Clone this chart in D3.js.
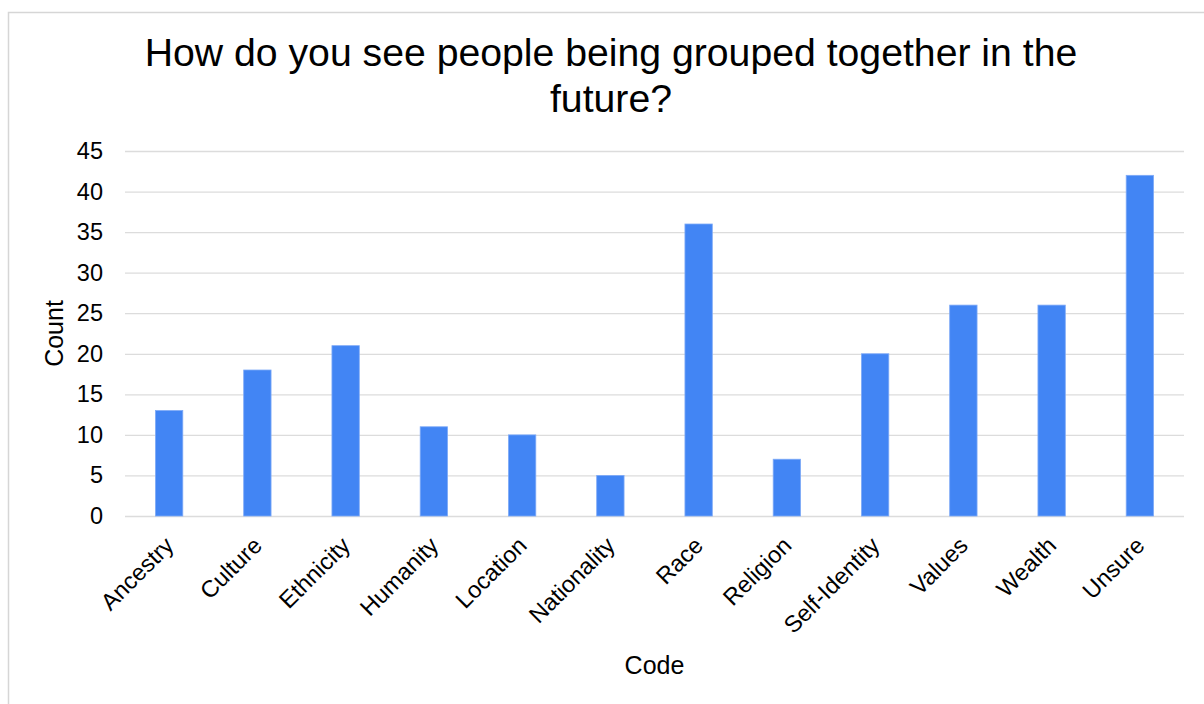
<!DOCTYPE html>
<html>
<head>
<meta charset="utf-8">
<script src="https://cdn.jsdelivr.net/npm/d3@7"></script>
<style>
  html, body { margin: 0; padding: 0; background: #fff; }
  svg { display: block; font-family: "Liberation Sans", Arial, sans-serif; }
</style>
</head>
<body>
<svg id="chart" width="1204" height="704"></svg>
<script>
// Survey responses per code
const categories = ["Ancestry", "Culture", "Ethnicity", "Humanity", "Location", "Nationality",
                    "Race", "Religion", "Self-Identity", "Values", "Wealth", "Unsure"];
const counts = [13, 18, 21, 11, 10, 5, 36, 7, 20, 26, 26, 42];
const yTicks = [0, 5, 10, 15, 20, 25, 30, 35, 40, 45];
const titleLines = ["How do you see people being grouped together in the", "future?"];
const xTitle = "Code";
const yTitle = "Count";

const svg = d3.select("#chart");
const plot = { left: 125, right: 1184, top: 151, bottom: 516 };

// Outer chart frame
svg.append("rect")
  .attr("x", 8.5).attr("y", 12.5)
  .attr("width", 1220).attr("height", 720)
  .attr("fill", "#fff")
  .attr("stroke", "#d6d6d6").attr("stroke-width", 1.5);

// Title
const title = svg.append("text")
  .attr("text-anchor", "middle")
  .attr("font-size", 39.2)
  .attr("fill", "#000");
titleLines.forEach((t, i) => {
  title.append("tspan").attr("x", 611).attr("y", 66 + i * 45.6).text(t);
});

const x = d3.scaleBand()
  .domain(categories)
  .range([plot.left, plot.right])
  .paddingInner(0.69)
  .paddingOuter(0.345);

const y = d3.scaleLinear()
  .domain([0, 45])
  .range([plot.bottom, plot.top]);

// Y axis with gridlines
const yAxis = svg.append("g")
  .attr("transform", `translate(${plot.left},0)`)
  .call(d3.axisLeft(y).tickValues(yTicks)
    .tickSizeInner(-(plot.right - plot.left))
    .tickSizeOuter(0)
    .tickPadding(22));
yAxis.select(".domain").remove();
yAxis.selectAll(".tick line")
  .attr("stroke", "#dcdcdc").attr("stroke-width", 1.3);
yAxis.selectAll(".tick text")
  .attr("font-size", 23.5).attr("fill", "#000")
  .attr("font-family", "Liberation Sans, Arial, sans-serif");

// Bars
svg.append("g").selectAll("rect")
  .data(categories.map((c, i) => ({ c, v: counts[i] })))
  .join("rect")
  .attr("x", d => x(d.c))
  .attr("y", d => y(d.v))
  .attr("width", x.bandwidth())
  .attr("height", d => y(0) - y(d.v))
  .attr("fill", "#4285f4")
  .attr("stroke", "#7eaaf7").attr("stroke-width", 0.8);

// X axis labels, rotated
const xAxis = svg.append("g")
  .attr("transform", `translate(0,${plot.bottom})`)
  .call(d3.axisBottom(x).tickSize(0).tickPadding(0));
xAxis.select(".domain").remove();
xAxis.selectAll(".tick text")
  .attr("font-size", 23.5).attr("fill", "#000")
  .attr("font-family", "Liberation Sans, Arial, sans-serif")
  .attr("text-anchor", "end")
  .attr("dy", 0)
  .attr("y", 0)
  .attr("transform", "translate(6,31) rotate(-45)");

// Axis titles
svg.append("text")
  .attr("x", (plot.left + plot.right) / 2)
  .attr("y", 674)
  .attr("text-anchor", "middle")
  .attr("font-size", 25).attr("fill", "#000")
  .text(xTitle);

svg.append("text")
  .attr("transform", `translate(63,${(plot.top + plot.bottom) / 2}) rotate(-90)`)
  .attr("text-anchor", "middle")
  .attr("font-size", 25).attr("fill", "#000")
  .text(yTitle);
</script>
</body>
</html>
